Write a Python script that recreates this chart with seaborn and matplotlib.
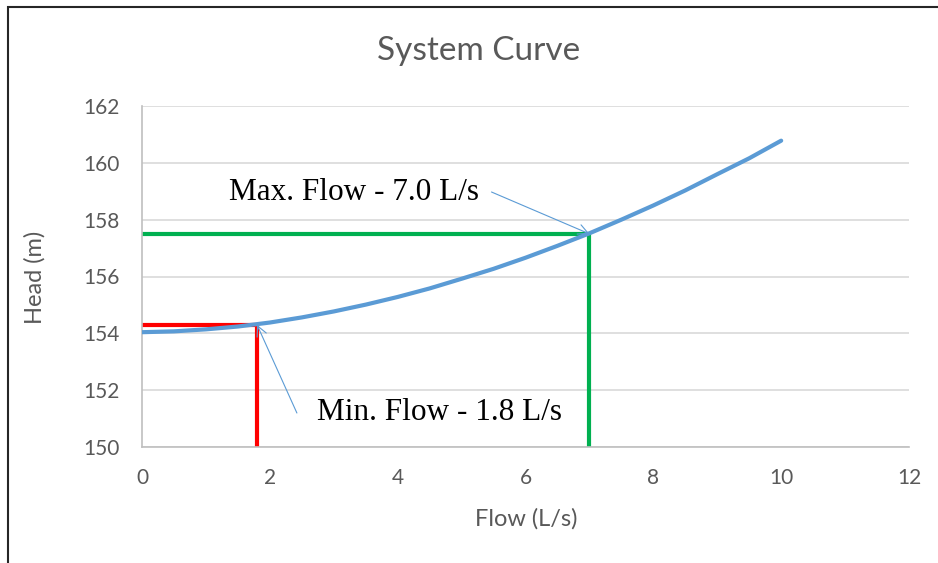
import matplotlib
matplotlib.use("Agg")
import matplotlib.pyplot as plt
import seaborn as sns
import pandas as pd
from matplotlib.patches import Rectangle

# Data
flow = [0, 0.5, 1, 1.5, 2, 2.5, 3, 3.5, 4, 4.5, 5, 5.5, 6, 6.5, 7, 7.5, 8, 8.5, 9, 9.5, 10]
head = [154.04, 154.07, 154.14, 154.24, 154.38, 154.56, 154.77, 155.01, 155.28, 155.58,
        155.92, 156.27, 156.66, 157.08, 157.52, 158.00, 158.50, 159.03, 159.60, 160.16, 160.78]

min_flow = 1.8
min_head = 154.3
max_flow = 7.0
max_head = 157.5

x_ticks = [0, 2, 4, 6, 8, 10, 12]
y_ticks = [150, 152, 154, 156, 158, 160, 162]

title = "System Curve"
x_label = "Flow (L/s)"
y_label = "Head (m)"
min_label = "Min. Flow - 1.8 L/s"
max_label = "Max. Flow - 7.0 L/s"

sns.set_style("white")
plt.rcParams['font.family'] = ['Lato', 'DejaVu Sans']

fig = plt.figure(figsize=(9.38, 5.63), dpi=100)
ax = fig.add_axes([142/938, 1-447/563, (909-142)/938, (447-106)/563])

df = pd.DataFrame({"Flow": flow, "Head": head})

# reference lines
ax.plot([0, min_flow], [min_head, min_head], color="#FF0000", lw=3, solid_capstyle="butt", zorder=2)
ax.plot([min_flow, min_flow], [150, min_head], color="#FF0000", lw=3, solid_capstyle="butt", zorder=2)
ax.plot([0, max_flow], [max_head, max_head], color="#00B050", lw=3, solid_capstyle="butt", zorder=2)
ax.plot([max_flow, max_flow], [150, max_head], color="#00B050", lw=3, solid_capstyle="butt", zorder=2)

sns.lineplot(data=df, x="Flow", y="Head", ax=ax, color="#5B9BD5", lw=3, zorder=3)

ax.set_xlim(0, 12)
ax.set_ylim(150, 162)
ax.set_xticks(x_ticks)
ax.set_yticks(y_ticks)
ax.tick_params(axis="y", length=0, labelsize=15, colors="#595959", pad=16)
ax.tick_params(axis="x", length=0, labelsize=15, colors="#595959", pad=15)
ax.yaxis.grid(True, color="#D9D9D9", lw=1.2)
ax.xaxis.grid(False)
for s in ["top", "right"]:
    ax.spines[s].set_visible(False)
for s in ["left", "bottom"]:
    ax.spines[s].set_color("#BFBFBF")
    ax.spines[s].set_linewidth(1.2)

ax.set_xlabel("")
ax.set_ylabel("")
fig.text(526/938, 1-519/563, x_label, ha="center", va="center", fontsize=17, color="#595959")
fig.text(35/938, 1-277/563, y_label, ha="center", va="center", fontsize=17, color="#595959", rotation=90)
fig.text(479/938, 1-51/563, title, ha="center", va="center", fontsize=24, color="#595959")

arrow = dict(arrowstyle="->", color="#5B9BD5", lw=0.8, shrinkA=0, shrinkB=0, mutation_scale=18)
ax.annotate(max_label, xy=(max_flow, max_head), xytext=(354/938, 1-192/563),
            textcoords="figure fraction", ha="center", va="center",
            fontsize=22.5, family="Liberation Serif", color="black",
            arrowprops=dict(arrow, relpos=(1.05, 0.5)))
ax.annotate(min_label, xy=(min_flow, min_head), xytext=(439/938, 1-413/563),
            textcoords="figure fraction", ha="center", va="center",
            fontsize=22.5, family="Liberation Serif", color="black",
            arrowprops=dict(arrow, relpos=(-0.08, 0.5)))

# outer chart border
fig.patches.append(Rectangle((8/938, -0.1), 1.2, 1-7/563+0.1, transform=fig.transFigure,
                             fill=False, edgecolor="#262626", lw=1.5))

fig.savefig("out.png", dpi=100)
